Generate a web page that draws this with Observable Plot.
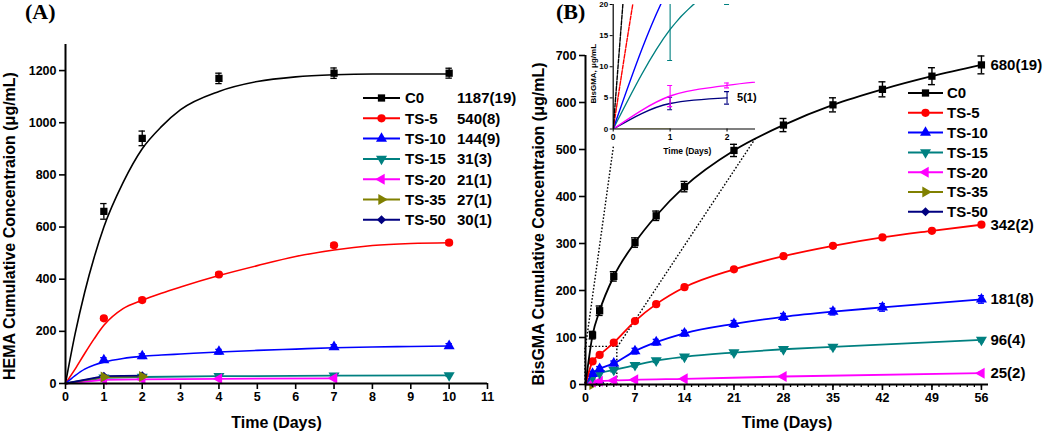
<!DOCTYPE html>
<html><head><meta charset="utf-8">
<script src="https://cdn.jsdelivr.net/npm/d3@7"></script>
<script src="https://cdn.jsdelivr.net/npm/@observablehq/plot@0.6"></script>
<style>
body{margin:0;background:#fff;}
#wrap{position:relative;width:1050px;height:436px;overflow:hidden;background:#fff;}
</style></head><body><div id="wrap"></div>
<script>
// ---------------- shared ----------------
const seriesNames = ["C0","TS-5","TS-10","TS-15","TS-20","TS-35","TS-50"];
const seriesColors = ["#000000","#ff0000","#0000ff","#008080","#ff00ff","#808000","#000080"];

// ---------------- Panel A : HEMA ----------------
const hemaFinal = ["1187(19)","540(8)","144(9)","31(3)","21(1)","27(1)","30(1)"];
const hemaDays = [0,1,2,4,7,10];
const hemaC0 = [0,660,940,1170,1190,1190];
const hemaC0Sd = [0,30,28,20,20,19];
const hemaTS5 = [0,250,320,418,530,540];
const hemaTS5Sd = [0,6,8,8,8,8];
const hemaTS10 = [0,90,105,122,140,144];
const hemaTS10Sd = [0,9,9,9,9,9];
const hemaTS15 = [0,22,25,28,30,31];
const hemaTS15Sd = [0,3,3,3,3,3];
const hemaTS20Days = [0,1,2,4,7];
const hemaTS20 = [0,14,16,18,20];
const hemaTS20Sd = [0,1,1,1,1];
const hemaTS35Days = [0,1,2];
const hemaTS35 = [0,25,27];
const hemaTS35Sd = [0,1,1];
const hemaTS50Days = [0,1,2];
const hemaTS50 = [0,28,30];
const hemaTS50Sd = [0,1,1];
// fitted curves
const hemaFitDays = [0,0.25,0.5,0.75,1,1.5,2,2.5,3,4,5,6,7,8,9,10];
const hemaFitC0 = [0,190,350,485,600,770,900,985,1050,1120,1158,1176,1184,1187,1187,1187];
const hemaFitTS5 = [0,55,115,172,223,287,319,346,370,414,452,487,512,529,537,540];
const hemaFitTS10 = [0,30,55,71,82,96,104,109,113,121,127,132,137,140,142,144];
const hemaXTicks = [0,1,2,3,4,5,6,7,8,9,10,11];
const hemaYTicks = [0,200,400,600,800,1000,1200];

// ---------------- Panel B : BisGMA ----------------
const bisFinal = ["680(19)","342(2)","181(8)","96(4)","25(2)",null,"5(1)"];
const bisDays = [0,1,2,4,7,10,14,21,28,35,42,49,56];
const bisC0 = [0,105,157,230,302,359,421,498,552,595,628,656,680];
const bisC0Sd = [0,8,10,10,10,10,11,13,14,15,16,18,19];
const bisTS5 = [0,49,63,89,135,171,207,245,273,295,313,327,340];
const bisTS5Sd = [0,2,2,2,2,2,2,2,2,2,2,2,2];
const bisTS10Days = [0,1,2,4,7,10,14,21,28,35,42,56];
const bisTS10 = [0,23,33,45,71,90,109,129,144,155,164,181];
const bisTS10Sd = [0,5,5,5,6,6,6,7,7,7,8,8];
const bisTS15Days = [0,1,2,4,7,10,14,21,28,35,56];
const bisTS15 = [0,16,24,31,41,51,59,68,75,80,95];
const bisTS15Sd = [0,5,4,4,4,4,4,4,4,4,4];
const bisTS20Days = [0,1,2,4,7,14,28,56];
const bisTS20 = [0,5.3,7,8.5,10,12,17,24];
const bisTS20Sd = [0,1.7,0.4,2,2,2,2,2];
const bisTS35Days = [0,1];
const bisTS35 = [0,0];
const bisTS35Sd = [0,0];
const bisTS50Days = [0,1,2];
const bisTS50 = [0,4.1,5];
const bisTS50Sd = [0,1,1];
const bisXTicks = [0,7,14,21,28,35,42,49,56];
const bisXMinor = d3.range(0,57);
const bisYTicks = [0,100,200,300,400,500,600,700];
// zoom box + connectors (annotation of the inset), in data units
const zoomBox = [{x1:0,x2:4.5,y1:0,y2:80}];
const zoomLinkStart = [[0,80],[4.5,80]];
const zoomLinkEnd = [[3.96,508],[24,523]];
// inset
const insetXTicks = [0,1,2];
const insetYTicks = [0,5,10,15,20];

// ---------------- helpers ----------------
const sqrt3 = Math.sqrt(3);
function tri(dir){
  return {draw(ctx,size){
    const y = -Math.sqrt(size/(sqrt3*3));
    const pts = [[0,y*2],[-sqrt3*y,-y],[sqrt3*y,-y]];
    const f = {up:p=>p, down:p=>[p[0],-p[1]], left:p=>[p[1],p[0]], right:p=>[-p[1],p[0]]}[dir];
    const q = pts.map(f);
    ctx.moveTo(q[0][0],q[0][1]); ctx.lineTo(q[1][0],q[1][1]); ctx.lineTo(q[2][0],q[2][1]); ctx.closePath();
  }};
}
const seriesSymbols = [d3.symbolSquare, d3.symbolCircle, tri("up"), tri("down"), tri("left"), tri("right"), d3.symbolDiamond2];
const rows = (xs, ys, es) => xs.map((x,i)=>({x, y: ys[i], e: es ? es[i] : 0}));
function errMarks(data, color, cap, sw, extra={}){
  const d = data.filter(r=>r.e>0);
  return [
    Plot.ruleX(d, {x:"x", y1:r=>r.y-r.e, y2:r=>r.y+r.e, stroke:color, strokeWidth:sw, ...extra}),
    Plot.ruleY(d, {x1:"x", x2:"x", y:r=>r.y-r.e, stroke:color, strokeWidth:sw, insetLeft:-cap, insetRight:-cap, ...extra}),
    Plot.ruleY(d, {x1:"x", x2:"x", y:r=>r.y+r.e, stroke:color, strokeWidth:sw, insetLeft:-cap, insetRight:-cap, ...extra})
  ];
}
const FONT = '"Liberation Sans", Arial, Helvetica, sans-serif';
const baseStyle = {fontFamily: FONT, fontWeight: "bold", background: "transparent", color: "#000", overflow: "visible"};
const wrap = document.getElementById("wrap");
function place(svg, left, top){ svg.style.position="absolute"; svg.style.left=left+"px"; svg.style.top=top+"px"; wrap.appendChild(svg); }

// ---------------- Panel A ----------------
const hemaData = [
  rows(hemaDays, hemaC0, hemaC0Sd), rows(hemaDays, hemaTS5, hemaTS5Sd), rows(hemaDays, hemaTS10, hemaTS10Sd),
  rows(hemaDays, hemaTS15, hemaTS15Sd), rows(hemaTS20Days, hemaTS20, hemaTS20Sd),
  rows(hemaTS35Days, hemaTS35, hemaTS35Sd), rows(hemaTS50Days, hemaTS50, hemaTS50Sd)
];
const hemaFits = [rows(hemaFitDays, hemaFitC0), rows(hemaFitDays, hemaFitTS5), rows(hemaFitDays, hemaFitTS10)];
const marksA = [];
hemaData.forEach((d,i)=>{
  const c = seriesColors[i];
  if (i < 3) marksA.push(Plot.line(hemaFits[i], {x:"x", y:"y", stroke:c, strokeWidth:1.6, curve:"monotone-x"}));
  else marksA.push(Plot.line(d, {x:"x", y:"y", stroke:c, strokeWidth:1.8}));
});
[3,4,2,6,5,1,0].forEach(i=>{
  const d = hemaData[i], c = seriesColors[i];
  marksA.push(...errMarks(d, c, 3.2, 1.3));
  marksA.push(Plot.dot(d.filter(r=>r.x>0), {x:"x", y:"y", symbol: seriesSymbols[i], r:4.1, fill:c, stroke:"none"}));
});
const plotA = Plot.plot({
  width: 520, height: 436,
  marginLeft: 65, marginRight: 33, marginTop: 44, marginBottom: 53,
  x: {domain:[0,11]}, y: {domain:[0,1300]},
  style: baseStyle,
  marks: [
    ...marksA,
    Plot.ruleX([0], {stroke:"#000", strokeWidth:2}),
    Plot.ruleY([0], {stroke:"#000", strokeWidth:2}),
    Plot.axisX({ticks: hemaXTicks, tickSize:6, tickPadding:3, strokeWidth:1.6, fontSize:12.5, tickFormat:d=>String(d), label:null}),
    Plot.axisY({ticks: hemaYTicks, tickSize:6, tickPadding:3, strokeWidth:1.6, fontSize:12.5, tickFormat:d=>String(d), label:null}),
    Plot.text(["Time (Days)"], {text:d=>d, frameAnchor:"bottom", textAnchor:"middle", dy:44, fontSize:16}),
    Plot.text(["HEMA Cumulative Concentraion (\u03bcg/mL)"], {text:d=>d, frameAnchor:"left", textAnchor:"middle", rotate:-90, dx:-56, dy:12, fontSize:16})
  ]
});
place(plotA, 0, 0);

// ---------------- Panel B ----------------
const bisData = [
  rows(bisDays, bisC0, bisC0Sd), rows(bisDays, bisTS5, bisTS5Sd), rows(bisTS10Days, bisTS10, bisTS10Sd),
  rows(bisTS15Days, bisTS15, bisTS15Sd), rows(bisTS20Days, bisTS20, bisTS20Sd),
  rows(bisTS35Days, bisTS35, bisTS35Sd), rows(bisTS50Days, bisTS50, bisTS50Sd)
];
const marksB = [];
const drawOrder = [5,6,4,3,2,1,0];
drawOrder.forEach(i=>{
  const d = bisData[i], c = seriesColors[i];
  marksB.push(Plot.line(d, {x:"x", y:"y", stroke:c, strokeWidth:1.8, curve:"monotone-x"}));
  marksB.push(...errMarks(d, c, i===0?3.5:3, 1.4));
  marksB.push(Plot.dot(d.filter(r=>r.x>0), {x:"x", y:"y", symbol: seriesSymbols[i], r:4.1, fill:c, stroke:"none"}));
});
const endLabels = [];
bisData.forEach((d,i)=>{ if (bisFinal[i] && i<5) endLabels.push({...d[d.length-1], label: bisFinal[i]}); });
const plotB = Plot.plot({
  width: 530, height: 436,
  marginLeft: 65, marginRight: 62, marginTop: 55, marginBottom: 52,
  x: {domain:[0,57]}, y: {domain:[0,700]},
  style: baseStyle,
  marks: [
    Plot.rect(zoomBox, {x1:"x1", x2:"x2", y1:"y1", y2:"y2", fill:"none", stroke:"#000", strokeWidth:1.4, strokeDasharray:"1.6,1.8"}),
    Plot.link(zoomLinkStart.map((p,k)=>({a:p, b:zoomLinkEnd[k]})), {x1:d=>d.a[0], y1:d=>d.a[1], x2:d=>d.b[0], y2:d=>d.b[1], stroke:"#000", strokeWidth:1.4, strokeDasharray:"1.6,1.8"}),
    ...marksB,
    Plot.text(endLabels, {x:"x", y:"y", text:"label", dx:9, textAnchor:"start", fontSize:15}),
    Plot.ruleX([0], {stroke:"#000", strokeWidth:2}),
    Plot.ruleY([0], {stroke:"#000", strokeWidth:2}),
    Plot.axisX({ticks: bisXMinor, tickSize:3, strokeWidth:1.3, tickFormat:()=>"", label:null}),
    Plot.axisX({ticks: bisXTicks, tickSize:6, tickPadding:3, strokeWidth:1.6, fontSize:12.5, tickFormat:d=>String(d), label:null}),
    Plot.axisY({ticks: bisYTicks, tickSize:6, tickPadding:3, strokeWidth:1.6, fontSize:12.5, tickFormat:d=>String(d), label:null}),
    Plot.text(["Time (Days)"], {text:d=>d, frameAnchor:"bottom", textAnchor:"middle", dy:43, fontSize:16}),
    Plot.text(["BisGMA Cumulative Concentraion (\u03bcg/mL)"], {text:d=>d, frameAnchor:"left", textAnchor:"middle", rotate:-90, dx:-47, dy:4, fontSize:16})
  ]
});
place(plotB, 520, 0);

// ---------------- Inset ----------------
const marksI = [];
drawOrder.forEach(i=>{
  const d = bisData[i], c = seriesColors[i];
  const dash = (i===0||i===1) ? "4,1.5" : null;
  marksI.push(Plot.line(d, {x:"x", y:"y", stroke:c, strokeWidth:1.4, curve:"monotone-x", clip:true, strokeDasharray:dash}));
  if (i===3||i===4||i===6) marksI.push(...errMarks(d.filter(r=>r.x<=2.5), c, 2.5, 1.1, {clip:true}));
});
const plotI = Plot.plot({
  width: 200, height: 165,
  marginLeft: 52.7, marginRight: 5, marginTop: 4, marginBottom: 36.5,
  x: {domain:[0,2.5]}, y: {domain:[0,20]},
  style: baseStyle,
  marks: [
    ...marksI,
    Plot.text(bisData[6].slice(-1), {x:"x", y:"y", text:()=>bisFinal[6], dx:10, textAnchor:"start", fontSize:11}),
    Plot.ruleX([0], {stroke:"#000", strokeWidth:1.2}),
    Plot.ruleY([0], {stroke:"#000", strokeWidth:1.2}),
    Plot.axisX({ticks: insetXTicks, tickSize:3, tickPadding:2, strokeWidth:1, fontSize:8.5, tickFormat:d=>String(d), label:null}),
    Plot.axisY({ticks: insetYTicks, tickSize:3, tickPadding:2, strokeWidth:1, fontSize:8, tickFormat:d=>String(d), label:null}),
    Plot.text(["Time (Days)"], {text:d=>d, frameAnchor:"bottom", textAnchor:"middle", dy:25, dx:3, fontSize:8.5}),
    Plot.text(["BisGMA, \u03bcg/mL"], {text:d=>d, frameAnchor:"left", textAnchor:"middle", rotate:-90, dx:-20, dy:7, fontSize:8})
  ]
});
place(plotI, 560, 0);

// ---------------- Legends and panel titles ----------------
const ov = d3.create("svg").attr("width",1050).attr("height",436)
  .style("position","absolute").style("left","0px").style("top","0px")
  .attr("font-family", FONT).attr("font-weight","bold");
function legend(x0, x1, textX, y0, dy, valueX, values){
  seriesNames.forEach((name,i)=>{
    const y = y0 + i*dy, c = seriesColors[i];
    ov.append("line").attr("x1",x0).attr("x2",x1).attr("y1",y).attr("y2",y).attr("stroke",c).attr("stroke-width",2);
    ov.append("path").attr("d", d3.symbol(seriesSymbols[i], 4.1*4.1*Math.PI)()).attr("transform",`translate(${(x0+x1)/2},${y})`).attr("fill",c);
    ov.append("text").attr("x",textX).attr("y",y).attr("dy","0.36em").attr("font-size",15).text(name);
    if (values) ov.append("text").attr("x",valueX).attr("y",y).attr("dy","0.36em").attr("font-size",15).text(values[i]);
  });
}
legend(363, 400, 405, 98, 20.3, 457, hemaFinal);
legend(908, 943, 947, 93, 19.8, null, null);
ov.append("text").attr("x",25).attr("y",19).attr("font-family",'"Liberation Serif", "Times New Roman", serif').attr("font-size",22).text("(A)");
ov.append("text").attr("x",556).attr("y",19).attr("font-family",'"Liberation Serif", "Times New Roman", serif').attr("font-size",22).text("(B)");
wrap.appendChild(ov.node());
</script></body></html>
